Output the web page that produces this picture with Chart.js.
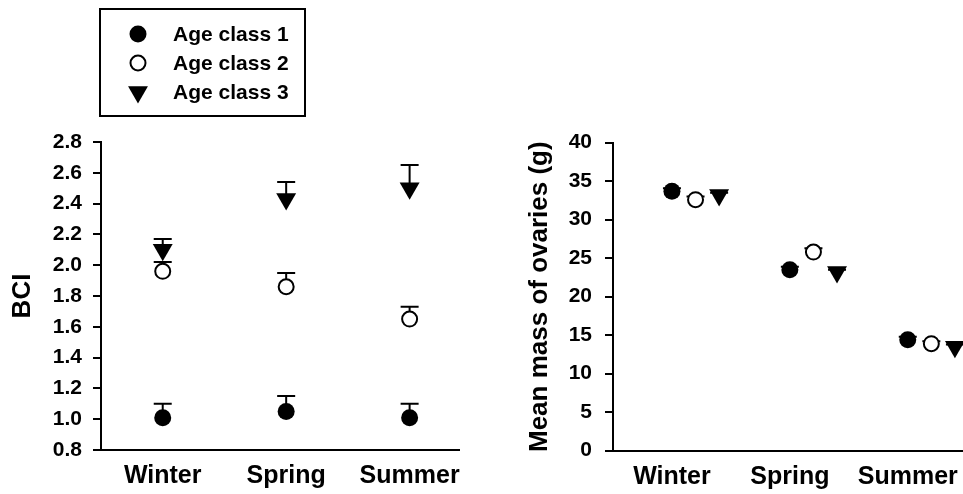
<!DOCTYPE html>
<html>
<head>
<meta charset="utf-8">
<script src="https://cdn.jsdelivr.net/npm/chart.js@4.4.1/dist/chart.umd.min.js"></script>
<style>
    html, body { margin: 0; padding: 0; background: #fff; overflow: hidden; width: 963px; height: 494px; }
    canvas { position: absolute; top: 0; }
    #bciChart { left: 0; }
    #ovaryChart { left: 520px; }
</style>
</head>
<body>
<canvas id="bciChart" width="480" height="494"></canvas>
<canvas id="ovaryChart" width="470" height="494"></canvas>
<script>
// Data
const seasons = ['Winter', 'Spring', 'Summer'];
const ageClasses = ['Age class 1', 'Age class 2', 'Age class 3'];

const bciTicks = [0.8, 1.0, 1.2, 1.4, 1.6, 1.8, 2.0, 2.2, 2.4, 2.6, 2.8];
const bciAge1 = [1.01, 1.05, 1.01];
const bciAge2 = [1.96, 1.86, 1.65];
const bciAge3 = [2.10, 2.43, 2.50];
const bciErrAge1 = [0.09, 0.10, 0.09];
const bciErrAge2 = [0.06, 0.09, 0.08];
const bciErrAge3 = [0.07, 0.11, 0.15];

const ovaryTicks = [0, 5, 10, 15, 20, 25, 30, 35, 40];
const ovaryAge1 = [33.7, 23.5, 14.4];
const ovaryAge2 = [32.6, 25.8, 13.9];
const ovaryAge3 = [33.2, 23.2, 13.5];
const ovaryErrAge1 = [0.4, 0.4, 0.4];
const ovaryErrAge2 = [0.4, 0.5, 0.3];
const ovaryErrAge3 = [0.3, 0.3, 0.3];

const FONT = '"Liberation Sans", Arial, Helvetica, sans-serif';

// marker look per age class
const markerStyles = [
    { pointStyle: 'circle', pointRadius: 8.5, backgroundColor: '#000', borderColor: '#000', borderWidth: 0, rotation: 0 },
    { pointStyle: 'circle', pointRadius: 7.5, backgroundColor: '#fff', borderColor: '#000', borderWidth: 2, rotation: 0 },
    { pointStyle: 'triangle', pointRadius: 11.5, backgroundColor: '#000', borderColor: '#000', borderWidth: 0, rotation: 180 }
];

// Error bar plugin (upper bar only)
const errorBars = {
    id: 'errorBars',
    beforeDatasetsDraw(chart) {
        const { ctx, scales: { x, y } } = chart;
        ctx.save();
        ctx.strokeStyle = '#000';
        ctx.lineWidth = 2;
        chart.data.datasets.forEach(ds => {
            ds.data.forEach((pt, j) => {
                const px = x.getPixelForValue(pt.x);
                const py = y.getPixelForValue(pt.y);
                const top = y.getPixelForValue(pt.y + ds.errors[j]);
                ctx.beginPath();
                ctx.moveTo(px, py);
                ctx.lineTo(px, top);
                ctx.moveTo(px - 9, top);
                ctx.lineTo(px + 9, top);
                ctx.stroke();
            });
        });
        ctx.restore();
    }
};

// Boxed legend drawn on the left chart
const boxLegend = {
    id: 'boxLegend',
    afterDraw(chart) {
        const ctx = chart.ctx;
        ctx.save();
        ctx.strokeStyle = '#000';
        ctx.lineWidth = 2;
        ctx.strokeRect(100, 9, 205, 107);
        ctx.font = 'bold 21px ' + FONT;
        ctx.textBaseline = 'middle';
        ctx.textAlign = 'left';
        chart.data.datasets.forEach((ds, i) => {
            const y = 34 + i * 29;
            ctx.fillStyle = ds.backgroundColor;
            ctx.strokeStyle = ds.borderColor;
            ctx.lineWidth = ds.borderWidth;
            Chart.helpers.drawPoint(ctx, {
                pointStyle: ds.pointStyle,
                rotation: ds.rotation,
                radius: ds.pointRadius,
                borderWidth: ds.borderWidth
            }, 138, y);
            ctx.fillStyle = '#000';
            ctx.fillText(ds.label, 173, y + 1);
        });
        ctx.restore();
    }
};

function buildDatasets(values, errors, dodge) {
    return values.map((vals, i) => Object.assign({
        label: ageClasses[i],
        data: vals.map((v, j) => ({ x: j + 1 + dodge[i], y: v })),
        errors: errors[i],
        showLine: false
    }, markerStyles[i]));
}

function buildOptions(cfg) {
    return {
        responsive: false,
        animation: false,
        layout: { padding: cfg.padding },
        plugins: { legend: { display: false }, tooltip: { enabled: false } },
        scales: {
            x: {
                type: 'linear',
                min: 0.5,
                max: cfg.xMax,
                afterBuildTicks: s => { s.ticks = seasons.map((c, i) => ({ value: i + 1 })); },
                afterFit: s => { s.height = cfg.xHeight; },
                grid: { display: false },
                border: { display: true, color: '#000', width: 2 },
                ticks: {
                    autoSkip: false,
                    maxRotation: 0,
                    padding: 3,
                    color: '#000',
                    font: { family: FONT, size: 25, weight: 'bold' },
                    callback: v => seasons[Math.round(v) - 1]
                }
            },
            y: {
                min: cfg.yTicks[0],
                max: cfg.yTicks[cfg.yTicks.length - 1],
                afterBuildTicks: s => { s.ticks = cfg.yTicks.map(v => ({ value: v })); },
                afterFit: s => { s.width = cfg.yWidth; },
                grid: { drawOnChartArea: false, drawTicks: true, tickLength: 8, color: '#000', lineWidth: 2 },
                border: { display: true, color: '#000', width: 2 },
                ticks: {
                    padding: cfg.tickPad,
                    color: '#000',
                    font: { family: FONT, size: 21, weight: 'bold' },
                    callback: cfg.tickFormat
                },
                title: {
                    display: true,
                    text: cfg.yTitle,
                    color: '#000',
                    padding: { top: cfg.titlePad, bottom: 0 },
                    font: { family: FONT, size: 26, weight: 'bold' }
                }
            }
        }
    };
}

// BCI chart
new Chart(document.getElementById('bciChart'), {
    type: 'scatter',
    data: {
        datasets: buildDatasets([bciAge1, bciAge2, bciAge3], [bciErrAge1, bciErrAge2, bciErrAge3], [0, 0, 0])
    },
    options: buildOptions({
        padding: { left: 0, top: 142, right: 21, bottom: 0 },
        xMax: 3.4, xHeight: 44, yWidth: 101, tickPad: 11, titlePad: 7,
        yTicks: bciTicks, yTitle: 'BCI',
        tickFormat: v => v.toFixed(1)
    }),
    plugins: [errorBars, boxLegend]
});

// Ovary mass chart
new Chart(document.getElementById('ovaryChart'), {
    type: 'scatter',
    data: {
        datasets: buildDatasets([ovaryAge1, ovaryAge2, ovaryAge3], [ovaryErrAge1, ovaryErrAge2, ovaryErrAge3], [0, 0.2, 0.4])
    },
    options: buildOptions({
        padding: { left: 0, top: 142.7, right: 10, bottom: 0 },
        xMax: 3.6, xHeight: 43.3, yWidth: 93, tickPad: 13, titlePad: 4,
        yTicks: ovaryTicks, yTitle: 'Mean mass of ovaries (g)',
        tickFormat: v => String(v)
    }),
    plugins: [errorBars]
});
</script>
</body>
</html>
